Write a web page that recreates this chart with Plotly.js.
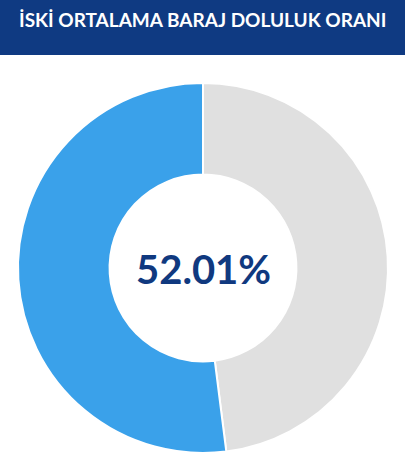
<!DOCTYPE html>
<html>
<head>
<meta charset="utf-8">
<script src="https://cdn.plot.ly/plotly-3.0.1.min.js"></script>
<style>html,body{margin:0;padding:0;background:#fff;}#chart{width:405px;height:468px;}</style>
</head>
<body>
<div id="chart"></div>
<script>
const labels = ["Boş", "Doluluk"];
const values = [47.99, 52.01];
const colors = ["#e0e0e0", "#3aa1ea"];
const titleText = "İSKİ ORTALAMA BARAJ DOLULUK ORANI";
const centerText = "52.01%";

const W = 405, H = 468;
const trace = {
  type: "pie",
  labels: labels,
  values: values,
  hole: 0.505,
  sort: false,
  direction: "clockwise",
  rotation: 0,
  marker: {colors: colors, line: {color: "#ffffff", width: 2}},
  textinfo: "none",
  hoverinfo: "none",
  showlegend: false,
  domain: {x: [18 / W, 388 / W], y: [15 / H, 385 / H]}
};
const layout = {
  width: W, height: H,
  margin: {l: 0, r: 0, t: 0, b: 0},
  paper_bgcolor: "#ffffff",
  shapes: [{type: "rect", xref: "paper", yref: "paper", x0: 0, x1: 1, y0: (H - 55) / H, y1: 1,
            fillcolor: "#0f3a82", line: {width: 0}, layer: "below"}],
  annotations: [
    {text: "<b>" + titleText + "</b>", xref: "paper", yref: "paper", x: 0.5, y: (H - 19.5) / H,
     xanchor: "center", yanchor: "middle", showarrow: false,
     font: {family: "Lato, sans-serif", size: 19, color: "#ffffff"}},
    {text: "<b>" + centerText + "</b>", xref: "paper", yref: "paper", x: 203 / W, y: (H - 269) / H,
     xanchor: "center", yanchor: "middle", showarrow: false,
     font: {family: "Lato, sans-serif", size: 40, color: "#10397f"}}
  ]
};
Plotly.newPlot("chart", [trace], layout, {displayModeBar: false, staticPlot: true});
</script>
</body>
</html>
